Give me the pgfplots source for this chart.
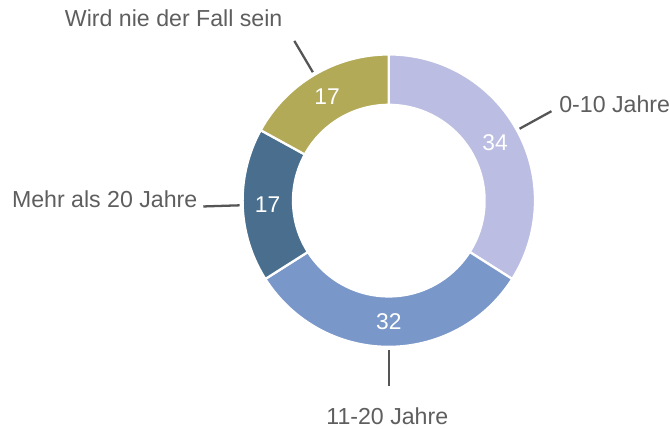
\documentclass[border=0pt]{standalone}
\usepackage{fontspec}
\setmainfont{Liberation Sans}
\usepackage{pgfplots}
\usepackage{pgfplotstable}
\pgfplotsset{compat=1.18}
\definecolor{cA}{HTML}{BBBDE2}
\definecolor{cB}{HTML}{7A97CA}
\definecolor{cC}{HTML}{4A6F8E}
\definecolor{cD}{HTML}{B3AA58}
\definecolor{txt}{HTML}{5E5E5E}
\definecolor{ln}{HTML}{555555}
\pgfplotstableread{
idx value
0 34
1 32
2 17
3 17
}\donutdata
\begin{document}
\begin{tikzpicture}
\pgfplotstablegetelem{0}{value}\of\donutdata\edef\vA{\pgfplotsretval}
\pgfplotstablegetelem{1}{value}\of\donutdata\edef\vB{\pgfplotsretval}
\pgfplotstablegetelem{2}{value}\of\donutdata\edef\vC{\pgfplotsretval}
\pgfplotstablegetelem{3}{value}\of\donutdata\edef\vD{\pgfplotsretval}
\pgfmathsetmacro\tot{\vA+\vB+\vC+\vD}
\pgfmathsetmacro\aA{90}
\pgfmathsetmacro\aB{\aA-360*\vA/\tot}
\pgfmathsetmacro\aC{\aB-360*\vB/\tot}
\pgfmathsetmacro\aD{\aC-360*\vC/\tot}
\pgfmathsetmacro\aE{\aD-360*\vD/\tot}
\pgfmathsetmacro\mA{(\aA+\aB)/2}
\pgfmathsetmacro\mB{(\aB+\aC)/2}
\pgfmathsetmacro\mC{(\aC+\aD)/2}
\pgfmathsetmacro\mD{(\aD+\aE)/2}
\def\Ro{2.93cm}
\def\Ri{1.92cm}
\def\Rw{1.01cm}
\begin{axis}[
  x=0.02cm, y=0.02cm, y dir=reverse,
  xmin=0, xmax=670, ymin=0, ymax=429,
  hide axis, clip=false,
]
\path (axis cs:0,0) rectangle (axis cs:670,429);
\foreach \s/\e/\c in {\aA/\aB/cA, \aB/\aC/cB, \aC/\aD/cC, \aD/\aE/cD}{
  \edef\tmp{\noexpand\filldraw[fill=\c, draw=white, line width=1.3pt, line join=miter]
    (axis cs:389.5,201) ++(\s:\Ro) arc[start angle=\s, end angle=\e, radius=\Ro]
    -- ++(\e:-\Rw) arc[start angle=\e, end angle=\s, radius=\Ri] -- cycle;}
  \tmp
}
\foreach \m in {\mA,\mB,\mC,\mD}{
  \edef\tmp{\noexpand\draw[ln, line width=1.3pt] (axis cs:389.5,201) ++(\m:2.99cm) -- ++(\m:0.73cm);}
  \tmp
}
\edef\tmp{\noexpand\path[font=\noexpand\fontsize{13}{15}\noexpand\selectfont, text=white]
  (axis cs:389.5,201) ++(\mA:2.43cm) node {\vA}
  (axis cs:389.5,201) ++(\mB:2.43cm) node {\vB}
  (axis cs:389.5,201) ++(\mC:2.43cm) node {\vC}
  (axis cs:389.5,201) ++(\mD:2.43cm) node {\vD};}
\tmp
\begin{scope}[every node/.style={font=\fontsize{13.2}{15}\selectfont, text=txt, inner sep=0pt}]
\node[anchor=base] at (axis cs:174,27) {Wird nie der Fall sein};
\node[anchor=base west] at (axis cs:560,113) {0-10 Jahre};
\node[anchor=base east] at (axis cs:198,208) {Mehr als 20 Jahre};
\node[anchor=base] at (axis cs:388,425) {11-20 Jahre};
\end{scope}
\end{axis}
\end{tikzpicture}
\end{document}
